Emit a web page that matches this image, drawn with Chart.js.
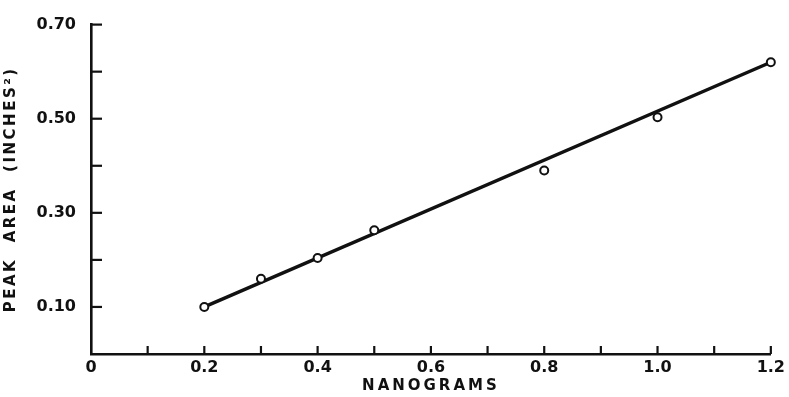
<!DOCTYPE html>
<html>
<head>
<meta charset="utf-8">
<script src="https://cdn.jsdelivr.net/npm/chart.js@4.4.1/dist/chart.umd.min.js"></script>
<style>
  html, body { margin: 0; padding: 0; background: #fff; }
  canvas { display: block; }
</style>
</head>
<body>
<canvas id="c" width="789" height="397"></canvas>
<script>
// Measured points
const nanograms = [0.2, 0.3, 0.4, 0.5, 0.8, 1.0, 1.2];
const peakArea = [0.10, 0.16, 0.204, 0.263, 0.39, 0.503, 0.62];
// Fitted straight line (end points)
const fitX = [0.2, 1.2];
const fitY = [0.10, 0.62];
// Axis ticks
const xTickValues = [0, 0.1, 0.2, 0.3, 0.4, 0.5, 0.6, 0.7, 0.8, 0.9, 1.0, 1.1, 1.2];
const xTickLabels = ['0', '', '0.2', '', '0.4', '', '0.6', '', '0.8', '', '1.0', '', '1.2'];
const yTickValues = [0.1, 0.2, 0.3, 0.4, 0.5, 0.6, 0.7];
const yTickLabels = ['0.10', '', '0.30', '', '0.50', '', '0.70'];
const xTitle = 'NANOGRAMS';
const yTitle = 'PEAK  AREA  (INCHES\u00B2)';

const INK = '#111';

function labelFor(values, labels, v) {
  for (let i = 0; i < values.length; i++) {
    if (Math.abs(values[i] - v) < 1e-6) return labels[i];
  }
  return '';
}

// widen the spacing of the axis titles only (lettering in the original is spaced out)
function spaceTitle(scale, spacing) {
  if (scale._spacedTitle) return;
  const orig = scale.drawTitle.bind(scale);
  scale.drawTitle = function () {
    const ctx = this.ctx;
    const prev = ctx.letterSpacing;
    ctx.letterSpacing = spacing;
    orig();
    ctx.letterSpacing = prev || '0px';
  };
  scale._spacedTitle = true;
}

const innerTicks = {
  id: 'innerTicks',
  afterDraw(chart) {
    const ctx = chart.ctx;
    const xs = chart.scales.x, ys = chart.scales.y;
    const area = chart.chartArea;
    ctx.save();
    ctx.strokeStyle = INK;
    ctx.lineWidth = 2.2;
    ctx.lineCap = 'butt';
    xTickValues.forEach(v => {
      if (v === 0) return;
      const px = xs.getPixelForValue(v);
      ctx.beginPath();
      ctx.moveTo(px, area.bottom);
      ctx.lineTo(px, area.bottom - 8);
      ctx.stroke();
    });
    yTickValues.forEach(v => {
      const py = ys.getPixelForValue(v);
      ctx.beginPath();
      ctx.moveTo(area.left, py);
      ctx.lineTo(area.left + 11, py);
      ctx.stroke();
    });
    ctx.restore();
  }
};

new Chart(document.getElementById('c'), {
  type: 'scatter',
  data: {
    datasets: [
      {
        label: 'fit',
        type: 'line',
        data: fitX.map((x, i) => ({ x: x, y: fitY[i] })),
        borderColor: INK,
        borderWidth: 3.5,
        pointRadius: 0,
        fill: false,
        clip: false,
        order: 2
      },
      {
        label: 'measured',
        data: nanograms.map((x, i) => ({ x: x, y: peakArea[i] })),
        pointRadius: 4,
        pointBorderWidth: 2,
        pointBorderColor: INK,
        pointBackgroundColor: '#fff',
        clip: false,
        order: 1
      }
    ]
  },
  options: {
    responsive: false,
    animation: false,
    events: [],
    layout: { padding: { top: 22, right: 17, left: 0, bottom: 0 } },
    plugins: { legend: { display: false }, tooltip: { enabled: false } },
    scales: {
      x: {
        type: 'linear',
        min: 0, max: 1.2,
        afterBuildTicks(scale) { scale.ticks = xTickValues.map(v => ({ value: v })); },
        afterFit(scale) { scale.height = 43; spaceTitle(scale, '3px'); },
        grid: { display: false, drawTicks: false },
        border: { display: true, color: INK, width: 2.6 },
        ticks: {
          autoSkip: false, maxRotation: 0,
          padding: 4,
          color: INK,
          font: { family: 'DejaVu Sans', size: 16, weight: 'bold' },
          callback: v => labelFor(xTickValues, xTickLabels, v)
        },
        title: {
          display: true, text: xTitle, color: INK,
          font: { family: 'DejaVu Sans', size: 15, weight: 'bold' },
          padding: { top: 0, bottom: 2 }
        }
      },
      y: {
        type: 'linear',
        min: 0, max: 0.7,
        afterBuildTicks(scale) { scale.ticks = yTickValues.map(v => ({ value: v })); },
        afterFit(scale) { scale.width = 91; spaceTitle(scale, '2.5px'); },
        grid: { display: false, drawTicks: false },
        border: { display: true, color: INK, width: 2.6 },
        ticks: {
          autoSkip: false,
          padding: 15,
          color: INK,
          font: { family: 'DejaVu Sans', size: 16, weight: 'bold' },
          callback: v => labelFor(yTickValues, yTickLabels, v)
        },
        title: {
          display: true, text: yTitle, color: INK,
          font: { family: 'DejaVu Sans', size: 15, weight: 'bold' },
          padding: { top: 2, bottom: 0 }
        }
      }
    }
  },
  plugins: [innerTicks]
});
</script>
</body>
</html>
